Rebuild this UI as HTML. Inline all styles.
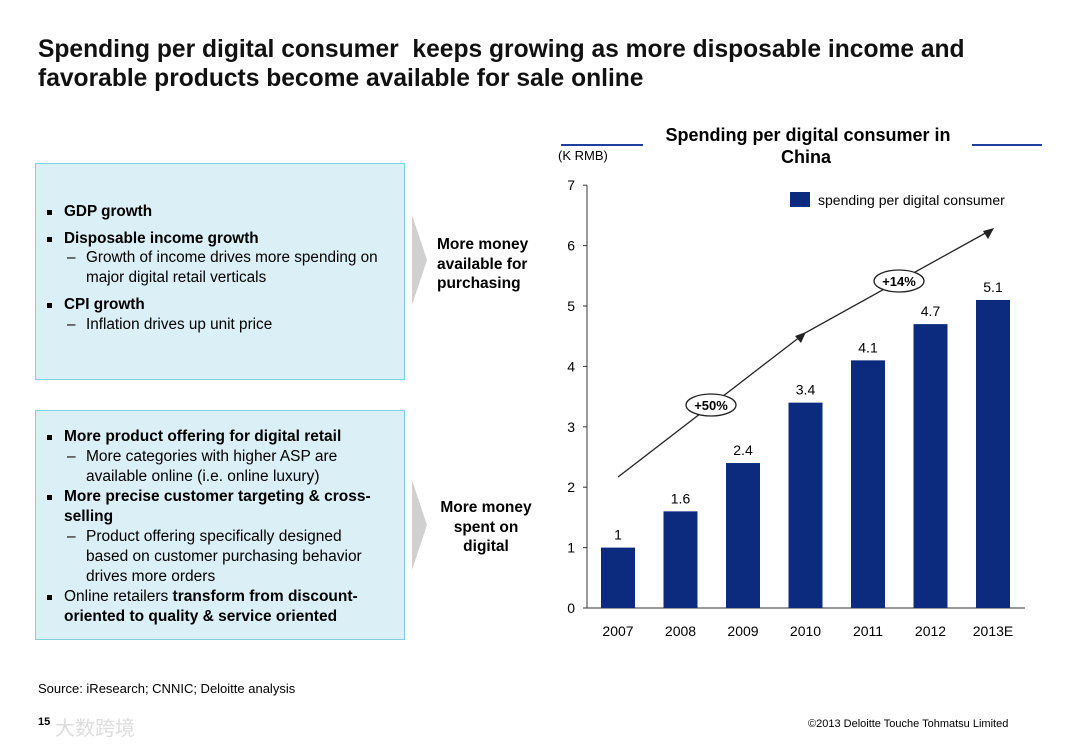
<!DOCTYPE html>
<html><head><meta charset="utf-8"><style>
body{margin:0;width:1080px;height:748px;background:#fff;font-family:"Liberation Sans",Arial,sans-serif;position:relative;overflow:hidden;color:#000}
.abs{position:absolute}
h1{position:absolute;left:38px;top:35px;width:960px;margin:0;font-size:24.6px;line-height:29px;font-weight:bold;color:#111}
.box{position:absolute;left:35px;width:370px;background:#dbeff7;border:1.5px solid #7fd0e0;box-sizing:border-box;font-size:15.3px;line-height:19.6px}
.b{padding-left:28px;position:relative;padding-right:12px}
.b:before{content:"";position:absolute;left:11px;top:8px;width:5px;height:5px;background:#000}
.s{padding-left:50px;padding-right:18px;position:relative}
.s:before{content:"–";position:absolute;left:31px}
.mid{position:absolute;font-weight:bold;font-size:15.5px;line-height:19.5px}
</style></head><body>
<h1>Spending per digital consumer&nbsp; keeps growing as more disposable income and favorable products become available for sale online</h1>

<div class="box" style="top:163px;height:217px;padding-top:38px">
<div class="b" style="font-weight:bold;margin-bottom:7px">GDP growth</div>
<div class="b" style="font-weight:bold">Disposable income growth</div>
<div class="s" style="margin-bottom:8px;padding-right:24px">Growth of income drives more spending on major digital retail verticals</div>
<div class="b" style="font-weight:bold">CPI growth</div>
<div class="s">Inflation drives up unit price</div>
</div>

<div class="box" style="top:410px;height:230px;padding-top:16px;font-size:15.5px;line-height:20px">
<div class="b" style="font-weight:bold">More product offering for digital retail</div>
<div class="s">More categories with higher ASP are available online (i.e. online luxury)</div>
<div class="b" style="font-weight:bold">More precise customer targeting &amp; cross-selling</div>
<div class="s" style="padding-right:24px">Product offering specifically designed based on customer purchasing behavior drives more orders</div>
<div class="b">Online retailers <b>transform from discount-oriented to quality &amp; service oriented</b></div>
</div>

<svg class="abs" style="left:0;top:0" width="1080" height="748">
<polygon points="412,215 427,260 412,305" fill="#d0d0d0"/>
<polygon points="412,480 427,525 412,570" fill="#d0d0d0"/>
</svg>
<div class="mid" style="left:437px;top:235px;width:100px">More money<br>available for<br>purchasing</div>
<div class="mid" style="left:430px;top:498px;width:112px;text-align:center">More money spent on digital</div>

<svg id="chart" class="abs" style="left:0;top:0" width="1080" height="748"></svg>

<div class="abs" style="left:38px;top:681px;font-size:13px">Source: iResearch; CNNIC; Deloitte analysis</div>
<div class="abs" style="left:38px;top:716px;font-size:11px;font-weight:bold">15</div>
<div class="abs" style="left:55px;top:712px;font-size:20px;color:#ddd;font-family:'Noto Sans CJK SC',sans-serif">大数跨境</div>
<div class="abs" style="left:808px;top:718px;font-size:11px">©2013 Deloitte Touche Tohmatsu Limited</div>

<script>
const categories=["2007","2008","2009","2010","2011","2012","2013E"];
const values=[1,1.6,2.4,3.4,4.1,4.7,5.1];
const valueLabels=["1","1.6","2.4","3.4","4.1","4.7","5.1"];
const yTicks=[0,1,2,3,4,5,6,7];
const NS="http://www.w3.org/2000/svg";
const svg=document.getElementById('chart');
const y0=608,yUnit=60.4,x0=587,firstX=618,step=62.5,bw=34;
const y=v=>y0-v*yUnit;
const x=i=>firstX+i*step;
function mk(t,a,txt){const e=document.createElementNS(NS,t);for(const k in a)e.setAttribute(k,a[k]);if(txt!=null)e.textContent=txt;svg.appendChild(e);return e;}
let e;
e=mk('text',{x:808,y:141,'text-anchor':'middle','font-size':18,'font-weight':'bold'},'Spending per digital consumer in');


e=mk('text',{x:806,y:163,'text-anchor':'middle','font-size':18,'font-weight':'bold'},'China');


mk('line',{x1:561,y1:145,x2:643,y2:145,stroke:'#1f3f9f','stroke-width':2});
mk('line',{x1:972,y1:145,x2:1042,y2:145,stroke:'#1f3f9f','stroke-width':2});
e=mk('text',{x:558,y:160,'font-size':13},'(K RMB)');


mk('line',{x1:x0,y1:y(7),x2:x0,y2:y0,stroke:'#333','stroke-width':1});
mk('line',{x1:x0,y1:y0,x2:1025,y2:y0,stroke:'#333','stroke-width':1});
yTicks.forEach(t=>{
 mk('line',{x1:x0-4,y1:y(t),x2:x0,y2:y(t),stroke:'#333'});
 const l=mk('text',{x:575,y:y(t)+5,'text-anchor':'end','font-size':14},String(t));
 
 
});
categories.forEach((c,i)=>{
 const r=mk('rect',{x:x(i)-bw/2,y:y(values[i]),width:bw,height:values[i]*yUnit,fill:'#0c2b7e'});
 
 
 const v=mk('text',{x:x(i),y:y(values[i])-8,'text-anchor':'middle','font-size':14},valueLabels[i]);
 
 
 const t=mk('text',{x:x(i),y:636,'text-anchor':'middle','font-size':14},c);
 
 
});
e=mk('rect',{x:790,y:192,width:20,height:15,fill:'#0c2b7e'});


e=mk('text',{x:818,y:205,'font-size':14},'spending per digital consumer');


mk('polyline',{points:'618,477 805,333 991,230',fill:'none',stroke:'#222','stroke-width':1.3});
mk('polygon',{points:'806,332 795,336 801,343',fill:'#222'});
mk('polygon',{points:'994,228 983,231 988,239',fill:'#222'});
e=mk('ellipse',{cx:711,cy:405,rx:25,ry:11,fill:'#fff',stroke:'#222','stroke-width':1.3});


mk('text',{x:711,y:410,'text-anchor':'middle','font-size':13,'font-weight':'bold'},'+50%');
e=mk('ellipse',{cx:899,cy:281,rx:25,ry:11,fill:'#fff',stroke:'#222','stroke-width':1.3});


mk('text',{x:899,y:286,'text-anchor':'middle','font-size':13,'font-weight':'bold'},'+14%');
</script>
</body></html>
